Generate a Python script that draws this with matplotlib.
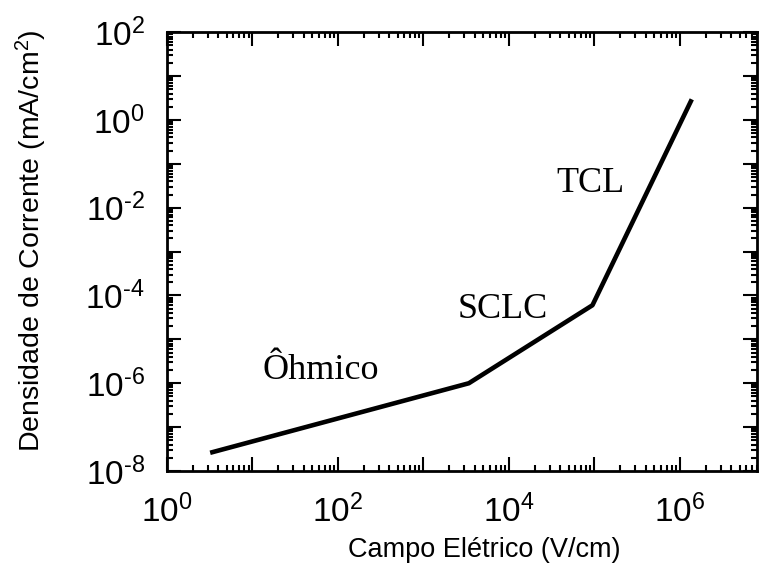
import math
import matplotlib
matplotlib.use("Agg")
import matplotlib.pyplot as plt
from matplotlib.ticker import LogLocator, NullFormatter, FuncFormatter

plt.rcParams['font.family'] = ['Liberation Sans', 'DejaVu Sans']
plt.rcParams['mathtext.fontset'] = 'custom'
plt.rcParams['mathtext.rm'] = 'Liberation Sans'
plt.rcParams['mathtext.it'] = 'Liberation Sans'
plt.rcParams['axes.unicode_minus'] = False

# Data
campo = [3.2, 3400, 9.5e4, 1.38e6]
densidade = [2.6e-8, 1.0e-6, 6.0e-5, 2.96]
regioes = ["Ôhmico", "SCLC", "TCL"]
regioes_x = [63, 8500, 8.9e4]
regioes_y = [2.0e-6, 4.7e-5, 0.036]

fig = plt.figure(figsize=(7.59, 5.76), dpi=100)
ax = fig.add_axes([0.22, 0.1823, 0.7774, 0.7617])
ax.plot(campo, densidade, color='black', lw=3.3, solid_capstyle='butt')
ax.set_xscale('log')
ax.set_yscale('log')
ax.set_xlim(1, 8e6)
ax.set_ylim(1e-8, 1e2)

ax.xaxis.set_major_locator(LogLocator(base=10, numticks=20))
ax.yaxis.set_major_locator(LogLocator(base=10, numticks=20))
ax.xaxis.set_minor_locator(LogLocator(base=10, subs=range(2, 10), numticks=20))
ax.yaxis.set_minor_locator(LogLocator(base=10, subs=range(2, 10), numticks=20))
ax.xaxis.set_minor_formatter(NullFormatter())
ax.yaxis.set_minor_formatter(NullFormatter())

def fmt(v, pos):
    e = int(round(math.log10(v)))
    if e % 2 != 0:
        return ""
    s = str(e).replace("-", "\u2010")
    return r"$\mathdefault{10^{%s}}$" % s

ax.xaxis.set_major_formatter(FuncFormatter(fmt))
ax.yaxis.set_major_formatter(FuncFormatter(fmt))

ax.tick_params(which='both', direction='in', top=True, right=True, width=1.5)
ax.tick_params(which='major', length=10, labelsize=24)
ax.tick_params(axis='x', which='major', pad=17)
ax.tick_params(axis='y', which='major', pad=16)
ax.tick_params(which='minor', length=4.3)
for s in ax.spines.values():
    s.set_linewidth(2)

ax.set_xlabel("Campo Elétrico (V/cm)", fontsize=19.5)
ax.set_ylabel("Densidade de Corrente (mA/cm$^2$)", fontsize=20.5)
ax.xaxis.set_label_coords(0.538, -0.150)
ax.yaxis.set_label_coords(-0.200, 0.524)

for t, x, y in zip(regioes, regioes_x, regioes_y):
    ax.text(x, y, t, fontsize=26, family='Liberation Serif', ha='center', va='center')

fig.savefig("out.png", dpi=100)
